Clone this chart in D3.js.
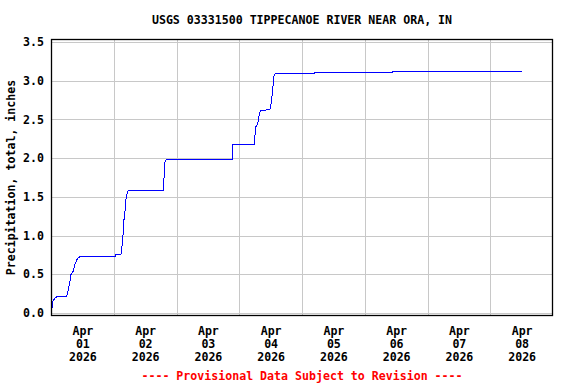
<!DOCTYPE html>
<html lang="en">
<head>
  <meta charset="UTF-8">
  <title>USGS 03331500 Tippecanoe River near Ora, IN</title>
  <style>
    html,
    body {
      margin: 0;
      background: #fff;
    }

    svg text {
      font-family: 'DejaVu Sans Mono', monospace;
      font-weight: bold;
      font-size: 11.6px;
    }
  </style>
  <script src="https://cdn.jsdelivr.net/npm/d3@7"></script>
</head>
<body>
  <script>
    const width = 576
    const height = 384
    const margin = { left: 51, right: 23, top: 39, bottom: 68 }

    // readings (site clock), cumulative inches
    const times = [
      '2026-04-01T00:00', '2026-04-01T00:30', '2026-04-01T00:45', '2026-04-01T01:30',
      '2026-04-01T02:15', '2026-04-01T06:00', '2026-04-01T06:30', '2026-04-01T07:15',
      '2026-04-01T07:30', '2026-04-01T08:30', '2026-04-01T09:15', '2026-04-01T10:15',
      '2026-04-01T11:15', '2026-04-02T00:30', '2026-04-02T00:45', '2026-04-02T02:45',
      '2026-04-02T03:00', '2026-04-02T03:30', '2026-04-02T03:45', '2026-04-02T04:15',
      '2026-04-02T04:45', '2026-04-02T05:15', '2026-04-02T05:30', '2026-04-02T19:00',
      '2026-04-02T19:30', '2026-04-02T20:00', '2026-04-03T21:15', '2026-04-03T21:30',
      '2026-04-04T05:45', '2026-04-04T06:15', '2026-04-04T07:00', '2026-04-04T07:30',
      '2026-04-04T08:00', '2026-04-04T11:45', '2026-04-04T12:15', '2026-04-04T12:45',
      '2026-04-04T13:15', '2026-04-04T13:45', '2026-04-04T14:45', '2026-04-05T04:45',
      '2026-04-05T05:00', '2026-04-06T10:30', '2026-04-06T10:45', '2026-04-08T12:15'
    ]
    const values = [
      0.01, 0.08, 0.15, 0.19,
      0.21, 0.21, 0.28, 0.41,
      0.49, 0.54, 0.64, 0.71,
      0.73, 0.73, 0.75, 0.75,
      0.82, 0.97, 1.16, 1.29,
      1.49, 1.57, 1.58, 1.58,
      1.94, 1.98, 1.98, 2.18,
      2.18, 2.40, 2.44, 2.53,
      2.61, 2.63, 2.72, 2.87,
      3.06, 3.09, 3.10, 3.10,
      3.11, 3.11, 3.12, 3.12
    ]

    const yTicks = [0, 0.5, 1.0, 1.5, 2.0, 2.5, 3.0, 3.5]
    const days = ['2026-04-01', '2026-04-02', '2026-04-03', '2026-04-04',
      '2026-04-05', '2026-04-06', '2026-04-07', '2026-04-08', '2026-04-09']

    const titleText = 'USGS 03331500 TIPPECANOE RIVER NEAR ORA, IN'
    const yTitle = 'Precipitation, total, inches'
    const footerText = '---- Provisional Data Subject to Revision ----'

    const parseTime = d3.utcParse('%Y-%m-%dT%H:%M')
    const parseDay = d3.utcParse('%Y-%m-%d')
    const data = times.map((t, i) => ({ t: parseTime(t), v: values[i] }))
    const dayDates = days.map(parseDay)
    const midnights = dayDates.slice(1, -1)
    const noons = dayDates.slice(0, -1).map(d => d3.utcHour.offset(d, 12))

    const svg = d3.select('body').append('svg')
      .attr('width', width)
      .attr('height', height)

    const x = d3.scaleUtc()
      .domain([dayDates[0], dayDates[dayDates.length - 1]])
      .range([margin.left, width - margin.right])

    const y = d3.scaleLinear()
      .domain([-0.04, 3.54])
      .range([height - margin.bottom, margin.top])

    // grid
    svg.append('g')
      .selectAll('line.hg')
      .data(yTicks)
      .join('line')
      .attr('x1', margin.left)
      .attr('x2', width - margin.right)
      .attr('y1', d => Math.round(y(d)) + 0.5)
      .attr('y2', d => Math.round(y(d)) + 0.5)
      .attr('stroke', '#c8c8c8')

    svg.append('g')
      .selectAll('line.vg')
      .data(midnights)
      .join('line')
      .attr('x1', d => Math.round(x(d)) + 0.5)
      .attr('x2', d => Math.round(x(d)) + 0.5)
      .attr('y1', margin.top)
      .attr('y2', height - margin.bottom)
      .attr('stroke', '#c8c8c8')

    // data line, pixel snapped like the original plot
    const line = d3.line()
      .x(d => x(d.t))
      .y(d => y(d.v))

    svg.append('path')
      .datum(data)
      .attr('fill', 'none')
      .attr('stroke', '#0000ff')
      .attr('stroke-width', 1)
      .attr('shape-rendering', 'crispEdges')
      .attr('d', line)

    // frame
    svg.append('rect')
      .attr('x', margin.left + 0.5)
      .attr('y', margin.top + 0.5)
      .attr('width', width - margin.left - margin.right - 1)
      .attr('height', height - margin.top - margin.bottom - 1)
      .attr('fill', 'none')
      .attr('stroke', '#000')
      .attr('stroke-width', 1.3)

    // y axis labels
    const gy = svg.append('g')
      .attr('transform', `translate(${margin.left},0)`)
      .call(d3.axisLeft(y).tickValues(yTicks).tickSize(0).tickPadding(7).tickFormat(d3.format('.1f')))
    gy.select('.domain').remove()
    gy.attr('font-family', null).attr('font-size', null)
    gy.selectAll('text').attr('fill', '#000')

    // x axis labels, three rows each
    const gx = svg.append('g')
      .attr('transform', `translate(0,${height - margin.bottom})`)
      .call(d3.axisBottom(x).tickValues(noons).tickSize(0).tickFormat(''))
    gx.select('.domain').remove()
    gx.attr('font-family', null).attr('font-size', null)
    gx.selectAll('.tick text').each(function (d) {
      const t = d3.select(this).attr('y', 18.7).attr('dy', 0).attr('fill', '#000')
      t.text(null)
      ;['%b', '%d', '%Y'].forEach((f, i) => {
        t.append('tspan')
          .attr('x', 0)
          .attr('dy', i ? 13.2 : 0)
          .text(d3.utcFormat(f)(d))
      })
    })

    // titles
    svg.append('text')
      .attr('x', (margin.left + width - margin.right) / 2)
      .attr('y', 23.5)
      .attr('text-anchor', 'middle')
      .text(titleText)

    svg.append('text')
      .attr('transform', `translate(14.5,${(margin.top + height - margin.bottom) / 2}) rotate(-90)`)
      .attr('text-anchor', 'middle')
      .text(yTitle)

    svg.append('text')
      .attr('x', (margin.left + width - margin.right) / 2)
      .attr('y', 379.5)
      .attr('text-anchor', 'middle')
      .attr('fill', '#ff0000')
      .text(footerText)
  </script>
</body>
</html>
